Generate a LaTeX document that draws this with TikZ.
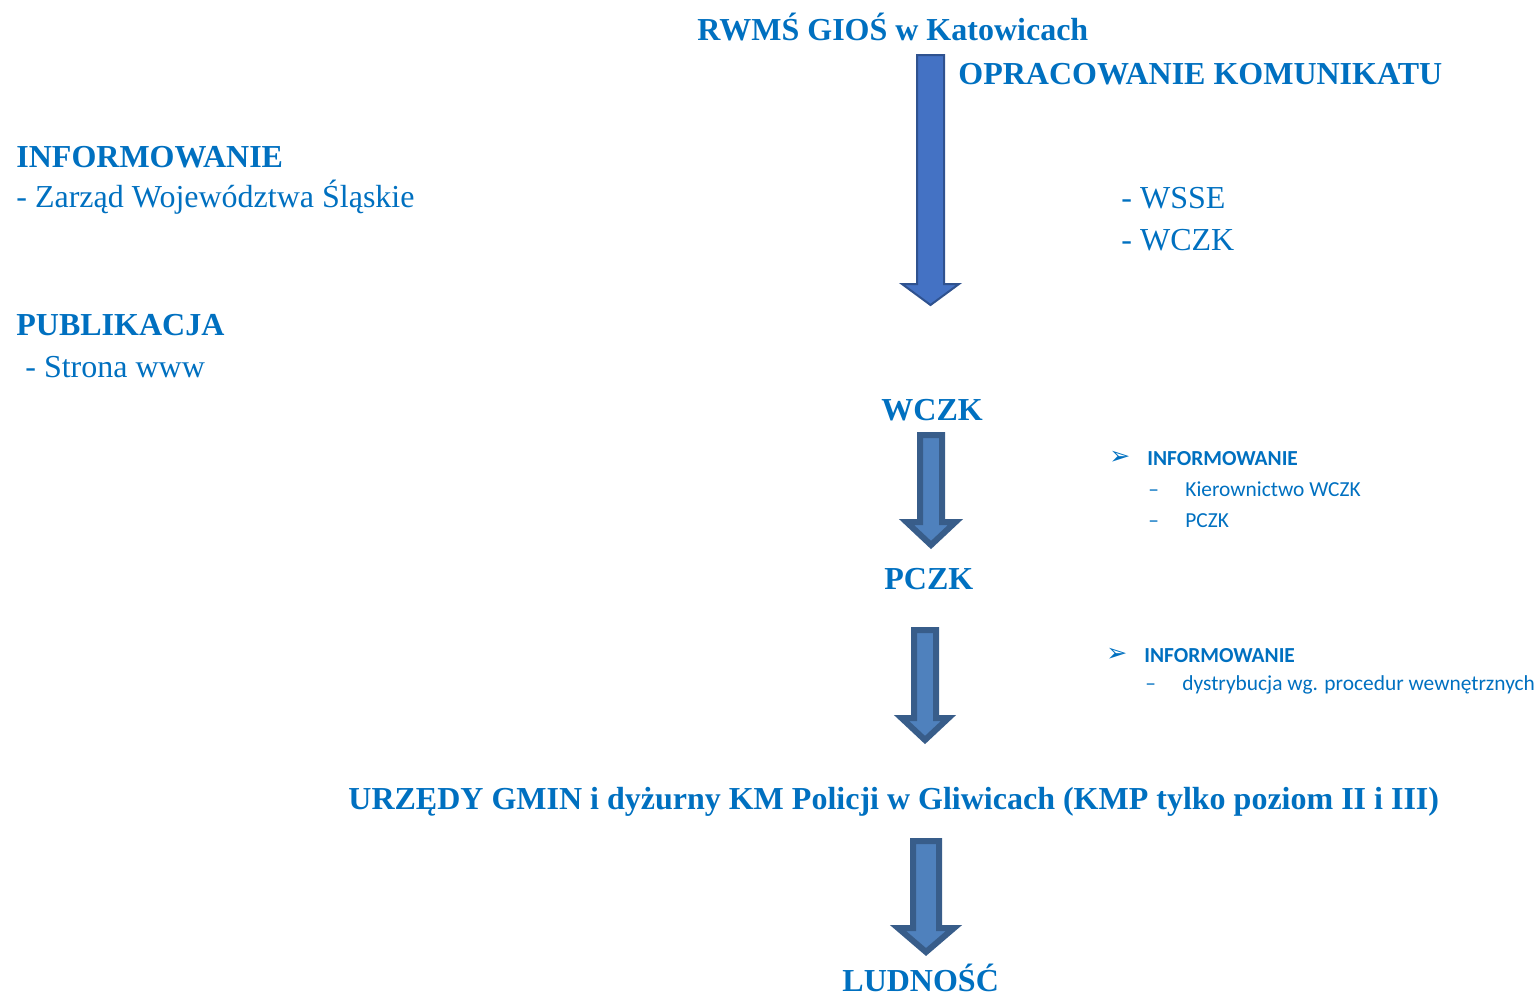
\documentclass[tikz,border=0pt]{standalone}
\usepackage{fontspec}
\setmainfont{Liberation Serif}
\newfontfamily\calibrifont{Carlito}
\newfontfamily\znakfont{DejaVu Sans}
\definecolor{niebieski}{HTML}{0070C0}
\definecolor{strzalka}{HTML}{4472C4}
\definecolor{strzalkaobw}{HTML}{2F528F}
\definecolor{strzalkab}{HTML}{4F81BD}
\definecolor{strzalkabobw}{HTML}{385D8A}
\def\blockarrow[#1](#2,#3)(#4:#5:#6:#7){\draw[#1] ({#2-#4},#3) -- ({#2+#4},#3) -- ({#2+#4},#5) -- ({#2+#6},#5) -- (#2,#7) -- ({#2-#6},#5) -- ({#2-#4},#5) -- cycle;}
\tikzset{
	tytul/.style={text=niebieski, font=\fontsize{16}{19}\selectfont\bfseries, inner sep=0pt, anchor=base west},
	tekst/.style={text=niebieski, font=\fontsize{16}{19}\selectfont, inner sep=0pt, anchor=base west},
	maly/.style={text=niebieski, font=\fontsize{10.7}{13}\selectfont\calibrifont, inner sep=0pt, anchor=base west},
	malybold/.style={maly, font=\fontsize{10.7}{13}\selectfont\calibrifont\bfseries},
	znak/.style={text=niebieski, font=\fontsize{12.5}{14}\selectfont\znakfont, inner sep=0pt, anchor=base west},
	gruba/.style={fill=strzalkab, draw=strzalkabobw, line width=3, line join=miter},
	cienka/.style={fill=strzalka, draw=strzalkaobw, line width=1, line join=miter},
}
\begin{document}
\begin{tikzpicture}[x=0.5pt, y=-0.5pt]
		%%%%% START %%%%%
		\useasboundingbox (0,0) rectangle (1537,996);
		
		\node[tytul] (rwms) at (697,40) {RWMŚ GIOŚ w Katowicach};
		\node[tytul] (opracowanie) at (958,84) {OPRACOWANIE KOMUNIKATU};
		
		\node[tytul] (inf) at (16,167) {INFORMOWANIE};
		\node[tekst] (zarzad) at (16,207) {- Zarząd Województwa Śląskie};
		\node[tekst] (wsse) at (1121,208) {- WSSE};
		\node[tekst] (wczkr) at (1121,250) {- WCZK};
		
		\node[tytul] (publ) at (16,335) {PUBLIKACJA};
		\node[tekst] (www) at (25,377) {- Strona www};
		
		\node[tytul] (wczk) at (881,420) {WCZK};
		\node[tytul] (pczk) at (884,589) {PCZK};
		\node[tytul] (urzedy) at (348,809) {URZĘDY GMIN i dyżurny KM Policji w Gliwicach (KMP tylko poziom II i III)};
		\node[tytul] (ludnosc) at (842,991) {LUDNOŚĆ};
		
		\node[znak] (b1) at (1109,464) {➢};
		\node[malybold] (inf1) at (1147,465) {INFORMOWANIE};
		\node[maly] (d1) at (1148,496) {–};
		\node[maly] (kier) at (1185,496) {Kierownictwo WCZK};
		\node[maly] (d2) at (1148,527) {–};
		\node[maly] (pczkr) at (1185,527) {PCZK};
		
		\node[znak] (b2) at (1106,661) {➢};
		\node[malybold] (inf2) at (1144,662) {INFORMOWANIE};
		\node[maly] (d3) at (1145,690) {–};
		\node[maly] (dystr) at (1182,690) {dystrybucja wg. procedur wewnętrznych};
		
		\blockarrow[cienka](930.5,55)(13.5:284:28.5:305)
		\blockarrow[gruba](931,435)(11:522:24.5:545)
		\blockarrow[gruba](925,630)(11:718:23.5:740)
		\blockarrow[gruba](926,841)(13:928:28:952)
		
		%%%%% END %%%%%
\end{tikzpicture}
\end{document}
